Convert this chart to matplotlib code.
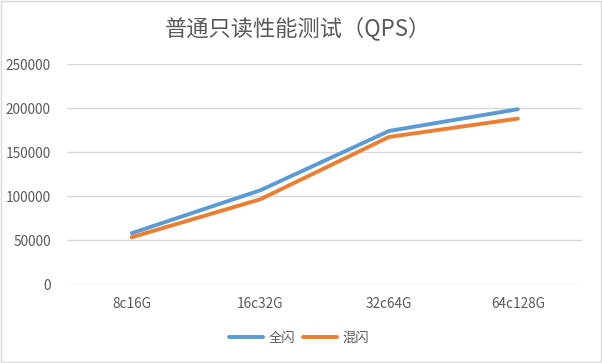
import matplotlib
matplotlib.use('Agg')
import matplotlib.pyplot as plt
from matplotlib.patches import Rectangle

plt.rcParams['font.family'] = ['Noto Sans CJK SC', 'DejaVu Sans']

categories = ['8c16G', '16c32G', '32c64G', '64c128G']
all_flash = [58000, 106800, 174200, 198900]
hybrid_flash = [53400, 96600, 167400, 188200]
yticks = [0, 50000, 100000, 150000, 200000, 250000]

fig = plt.figure(figsize=(6.02, 3.63), dpi=100)
ax = fig.add_axes([0.112, 0.217, 0.855, 0.606])

x = range(len(categories))
ax.plot(x, all_flash, color='#5B9BD5', linewidth=2.8, label='全闪', solid_capstyle='round')
ax.plot(x, hybrid_flash, color='#ED7D31', linewidth=2.8, label='混闪', solid_capstyle='round')

ax.set_xlim(-0.5, len(categories) - 0.5)
ax.set_ylim(0, 250000)
ax.set_yticks(yticks)
ax.set_yticklabels([str(v) for v in yticks])
ax.set_xticks(list(x))
ax.set_xticklabels(categories)
ax.grid(axis='y', color='#D9D9D9', linewidth=1)
ax.set_axisbelow(True)
for s in ax.spines.values():
    s.set_visible(False)
ax.tick_params(length=0, colors='#595959', labelsize=9.8)
ax.tick_params(axis='y', pad=12)
ax.tick_params(axis='x', pad=9)

fig.text(0.495, 0.922, '普通只读性能测试（QPS）', ha='center', va='center',
         fontsize=16, color='#595959')

fig.legend(loc='center', bbox_to_anchor=(0.497, 0.068), ncol=2, frameon=False,
           fontsize=9.5, labelcolor='#595959', handlelength=2.6, columnspacing=0.6,
           handletextpad=0.4)

fig.patches.append(Rectangle((0.001, 0.002), 0.997, 0.995, transform=fig.transFigure,
                             fill=False, edgecolor='#D9D9D9', linewidth=1))

fig.savefig('out.png', dpi=100)
